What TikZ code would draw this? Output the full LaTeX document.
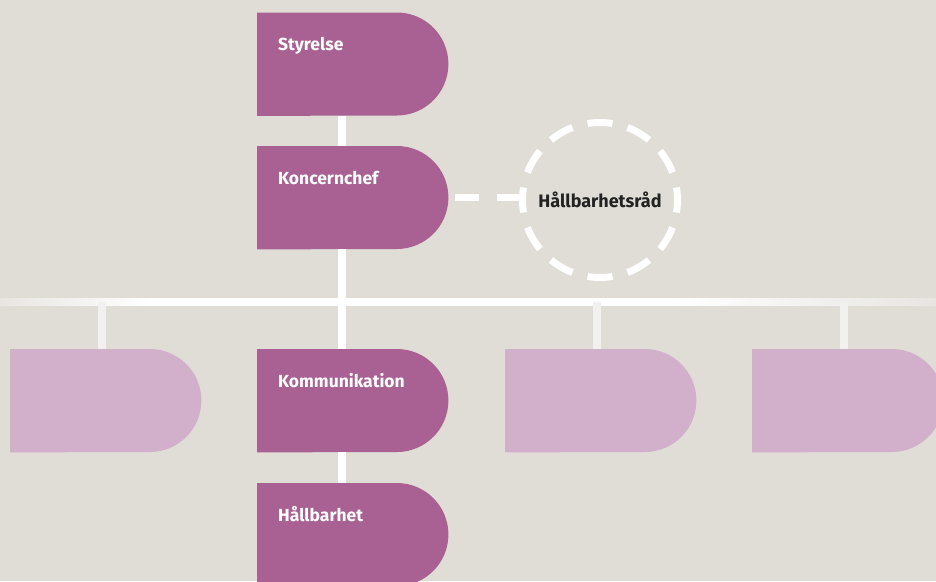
\documentclass[tikz,border=0pt]{standalone}
\usepackage{fontspec}
\setmainfont{Fira Sans}
\usetikzlibrary{positioning}
\definecolor{paper}{HTML}{E0DDD7}
\definecolor{plum}{HTML}{A86192}
\definecolor{lilac}{HTML}{D2B0CB}
\definecolor{offwhite}{HTML}{F3F1EF}
\definecolor{railend}{HTML}{E8E5E1}
\definecolor{ink}{HTML}{222222}
\pgfdeclarehorizontalshading{railfade}{100bp}{color(0bp)=(railend); color(25bp)=(railend);
  color(33bp)=(white); color(61bp)=(white); color(75bp)=(railend); color(100bp)=(railend)}
\tikzset{
  unit/.style={minimum width=191pt, minimum height=103pt, inner sep=0pt, anchor=north west},
  title/.style={text=white, font=\fontsize{17.5}{20}\selectfont\bfseries, anchor=base west, inner sep=0pt},
  spine/.style={white, line width=8pt},
  drop/.style={offwhite, line width=8pt},
  link/.style={white, line width=7pt, dash pattern=on 24pt off 18pt},
  ring/.style={white, line width=7pt}
}
\newcommand{\orgunit}[5]{% name, x, y, colour, text
  \node[unit] (#1) at (#2,#3) {};
  \fill[#4] (#1.north west) -- ([xshift=-51.5pt]#1.north east)
    arc[start angle=90, end angle=-90, radius=51.5pt] -- (#1.south west) -- cycle;
  \node[title] (#1-txt) at ([xshift=21pt, yshift=-38pt]#1.north west) {#5};
}

\begin{document}
\begin{tikzpicture}[x=1pt, y=-1pt]
\useasboundingbox (0,0) rectangle (936,581);
\fill[paper] (0,0) rectangle (936,581);

% lines behind the boxes
\coordinate (axis) at (342,0);
\coordinate (rail) at (0,302);
\shade[shading=railfade] (0,298.5) rectangle (936,305.5);

% boxes
\orgunit{sty}{257}{12.5}{plum}{Styrelse}
\orgunit{kch}{257}{146}{plum}{Koncernchef}
\orgunit{og1}{10}{349}{lilac}{}
\orgunit{kom}{257}{349}{plum}{Kommunikation}
\orgunit{og3}{505}{349}{lilac}{}
\orgunit{og4}{752}{349}{lilac}{}
\orgunit{hlb}{257}{483}{plum}{Hållbarhet}

% connectors
\draw[spine] (sty.south -| axis) -- (kch.north -| axis);
\draw[spine] (kch.south -| axis) -- (kom.north -| axis);
\draw[spine] (kom.south -| axis) -- (hlb.north -| axis);
\foreach \b in {og1, og3, og4}
  \draw[drop] ([xshift=92pt]\b.north west) -- ([xshift=92pt]\b.north west |- rail);

% advisory council
\node[circle, minimum size=155pt, inner sep=0pt, text=ink,
  font=\fontsize{18}{20}\selectfont\bfseries] (rad) at (600,200) {Hållbarhetsråd};
\foreach \a in {0,30,...,330}
  \draw[ring] ([shift={(\a-9.25:77.5pt)}]rad.center) arc[start angle=\a-9.25, delta angle=18.5, radius=77.5pt];
\draw[link] ([xshift=7pt]kch.east) -- (kch.east -| rad.west);
\end{tikzpicture}
\end{document}
